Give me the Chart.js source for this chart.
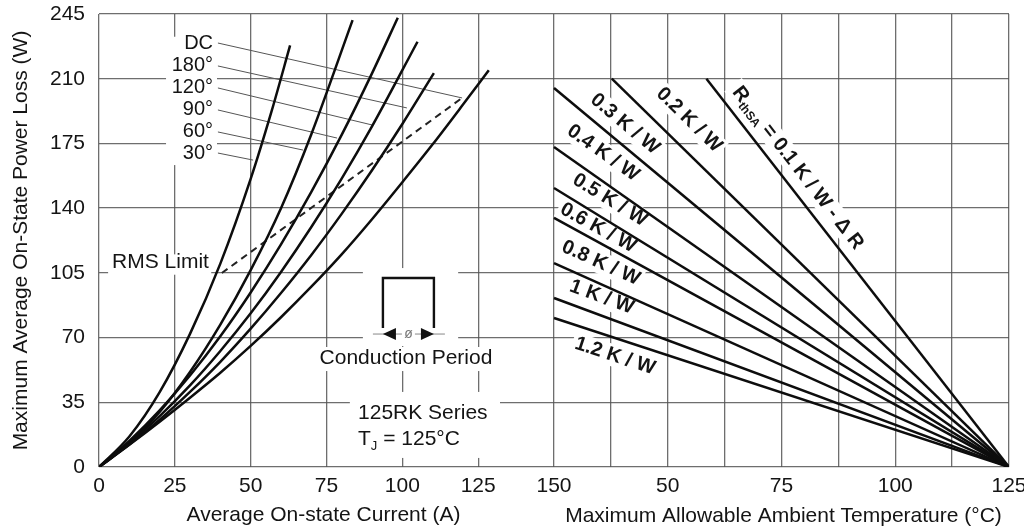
<!DOCTYPE html>
<html><head><meta charset="utf-8">
<script src="https://cdn.jsdelivr.net/npm/chart.js@4.4.0/dist/chart.umd.min.js"></script>
<style>html,body{margin:0;padding:0;background:#fff;overflow:hidden}#wrap{width:1024px;height:532px}</style>
</head><body><div id="wrap"><canvas id="c" width="1024" height="532"></canvas></div>
<script>
// ---------------- DATA ----------------
const yTickValues = [0, 35, 70, 105, 140, 175, 210, 245];
const xTickValues = [0, 25, 50, 75, 100, 125, 150, 168.75, 187.5, 206.25, 225, 243.75, 262.5, 281.25, 300];
const xTickLabels = ['0', '25', '50', '75', '100', '125', '150', '', '50', '', '75', '', '100', '', '125'];

// Left panel: power loss vs average current, per conduction angle
const curveNames = ['DC', '180°', '120°', '90°', '60°', '30°'];
const dcCurrent  = [0, 10, 20, 30, 40, 50, 60, 70, 80, 90, 100, 110, 120, 128.5];
const dcPower    = [0, 12, 24.5, 37.5, 51, 65.5, 81, 97.5, 115, 134, 154, 174.5, 196, 214.6];
const c180Current = [0, 10, 20, 30, 40, 50, 60, 70, 80, 90, 100, 110.4];
const c180Power   = [0, 12.1, 25.6, 40.6, 56.9, 74.8, 94.1, 114.7, 136.9, 160.5, 185.5, 213];
const c120Current = [0, 10, 20, 30, 40, 50, 60, 70, 80, 90, 105];
const c120Power   = [0, 12.8, 27.5, 44.1, 62.7, 83.1, 105.5, 129.8, 156, 184.2, 230];
const c90Current = [0, 10, 20, 30, 40, 50, 60, 70, 80, 90, 98.5];
const c90Power   = [0, 14.1, 30.6, 49.5, 70.7, 94.4, 120.4, 148.8, 179.6, 212.9, 243];
const c60Current = [0, 10, 20, 30, 40, 50, 60, 70, 83.6];
const c60Power   = [0, 12.9, 29.8, 51.4, 77, 106.5, 140, 180, 241.7];
const c30Current = [0, 10, 20, 30, 40, 50, 57, 63];
const c30Power   = [0, 16.5, 40.5, 72, 110, 155.8, 193, 228];

// RMS limit (dashed)
const rmsCurrent = [40.5, 119.7];
const rmsPower   = [104.9, 199.6];

// Leader lines from the curve names to the curves
const leaderStartCurrent = [39.2, 39.2, 39.2, 39.2, 39.2, 39.2];
const leaderStartPower   = [229.3, 216.9, 205, 193.1, 181.2, 169.8];
const leaderEndCurrent   = [119.7, 101.5, 90, 78.5, 67.3, 50.8];
const leaderEndPower     = [199.6, 194.2, 185, 177.9, 171.4, 166];

// Right panel: power loss vs ambient temperature, per heatsink resistance
const rthNames      = ['0.1', '0.2 K / W', '0.3 K / W', '0.4 K / W', '0.5 K / W', '0.6 K / W', '0.8 K / W', '1 K / W', '1.2 K / W'];
const rthStartTemp  = [58.5, 37.7, 25, 25, 25, 25, 25, 25, 25];
const rthStartPower = [210, 210, 205, 173.1, 150.9, 134.7, 110.3, 91.4, 80.6];
const rthEndTemp    = [125, 125, 125, 125, 125, 125, 125, 125, 125];
const rthEndPower   = [0, 0, 0, 0, 0, 0, 0, 0, 0];

// ---------------- HELPERS ----------------
const SPLIT = 150;                           // current axis spans 0..150 units
const tempToX = t => SPLIT + (t - 25) * 1.5; // temperature axis 25..125 mapped onto 150..300
const zip = (xs, ys) => xs.map((x, i) => ({ x: x, y: ys[i] }));

const FONT = "'Liberation Sans', Arial, Helvetica, sans-serif";
const TXT = '#141414';
const GRID = 'rgba(85,85,85,0.85)';

const datasets = [];
const curveCurrents = [dcCurrent, c180Current, c120Current, c90Current, c60Current, c30Current];
const curvePowers   = [dcPower, c180Power, c120Power, c90Power, c60Power, c30Power];
curveNames.forEach((n, i) => datasets.push({
  label: n, data: zip(curveCurrents[i], curvePowers[i]), showLine: true,
  borderColor: '#0d0d0d', borderWidth: 2.5, pointRadius: 0, cubicInterpolationMode: 'monotone'
}));
datasets.push({ label: 'RMS Limit', data: zip(rmsCurrent, rmsPower), showLine: true,
  borderColor: '#222', borderWidth: 2, borderDash: [7, 5], pointRadius: 0 });
leaderStartCurrent.forEach((x, i) => datasets.push({
  label: 'leader' + i, data: [{ x: x, y: leaderStartPower[i] }, { x: leaderEndCurrent[i], y: leaderEndPower[i] }],
  showLine: true, borderColor: '#555', borderWidth: 1, pointRadius: 0 }));
rthNames.forEach((n, i) => datasets.push({
  label: n, data: [{ x: tempToX(rthStartTemp[i]), y: rthStartPower[i] }, { x: tempToX(rthEndTemp[i]), y: rthEndPower[i] }],
  showLine: true, borderColor: '#0d0d0d', borderWidth: 2.5, pointRadius: 0 }));

// ---------------- ANNOTATIONS ----------------
// label anchors in data units (current or temperature, power)
const curveLabelX = 37.6;
const rthLabelTemp  = [78.6, 54.7, 40.6, 35.8, 37.3, 34.7, 35.3, 35.5, 38.4];
const rthLabelPower = [161.7, 187.7, 185.5, 169.8, 144.4, 129.3, 110.3, 91.9, 60];

function P(chart, x, y) { return [chart.scales.x.getPixelForValue(x), chart.scales.y.getPixelForValue(y)]; }
function whiteRect(ctx, x0, y0, x1, y1) { ctx.fillStyle = '#fff'; ctx.fillRect(Math.min(x0, x1), Math.min(y0, y1), Math.abs(x1 - x0), Math.abs(y1 - y0)); }

const annot = {
  id: 'annot',
  beforeDatasetsDraw(chart) {
    const ctx = chart.ctx; ctx.save();
    const boxes = [[22.1, 232.7, 38.9, 163.3], [3, 115, 37, 104], [87, 107.6, 118.4, 65.4], [70.2, 64.9, 132.2, 51.9], [82.7, 40.6, 132.2, 4.9]];
    boxes.forEach(b => { const a = P(chart, b[0], b[1]), c = P(chart, b[2], b[3]); whiteRect(ctx, a[0], a[1], c[0], c[1]); });
    // white boxes behind rotated right-panel labels
    rthNames.forEach((n, i) => {
      const s = P(chart, tempToX(rthStartTemp[i]), rthStartPower[i]), e = P(chart, tempToX(rthEndTemp[i]), rthEndPower[i]);
      const ang = Math.atan2(e[1] - s[1], e[0] - s[0]);
      const c = P(chart, tempToX(rthLabelTemp[i]), rthLabelPower[i]);
      ctx.font = 'bold 20px ' + FONT;
      const w = (i === 0 ? 205 : ctx.measureText(n).width) + 6;
      ctx.save(); ctx.translate(c[0], c[1]); ctx.rotate(ang);
      ctx.fillStyle = '#fff'; ctx.fillRect(-w / 2, -11, w, 22); ctx.restore();
    });
    ctx.restore();
  },
  afterDatasetsDraw(chart) {
    const ctx = chart.ctx; ctx.save();
    ctx.fillStyle = TXT; ctx.textBaseline = 'middle';
    // curve names
    ctx.font = '20px ' + FONT; ctx.textAlign = 'right';
    curveNames.forEach((n, i) => { const p = P(chart, curveLabelX, leaderStartPower[i]); ctx.fillText(n, p[0], p[1]); });
    // RMS Limit
    ctx.textAlign = 'left'; ctx.font = '21px ' + FONT;
    let p = P(chart, 4.3, 111); ctx.fillText('RMS Limit', p[0], p[1]);
    // Conduction Period
    ctx.textAlign = 'center';
    p = P(chart, 101.2, 59); ctx.fillText('Conduction Period', p[0], p[1]);
    // 125RK Series / TJ
    ctx.textAlign = 'left';
    p = P(chart, 85.4, 29.2); ctx.fillText('125RK Series', p[0], p[1]);
    p = P(chart, 85.4, 15.1);
    ctx.fillText('T', p[0], p[1]);
    let wT = ctx.measureText('T').width;
    ctx.font = '13px ' + FONT; ctx.fillText('J', p[0] + wT, p[1] + 7);
    let wJ = ctx.measureText('J').width;
    ctx.font = '21px ' + FONT; ctx.fillText(' = 125°C', p[0] + wT + wJ, p[1]);
    // conduction icon
    const ic = P(chart, 93.6, 102.2); const ix = ic[0], iy = ic[1];
    ctx.strokeStyle = '#111'; ctx.lineWidth = 2.4;
    ctx.beginPath(); ctx.moveTo(ix, iy + 50); ctx.lineTo(ix, iy); ctx.lineTo(ix + 51, iy); ctx.lineTo(ix + 51, iy + 50); ctx.stroke();
    const ay = iy + 56;
    ctx.strokeStyle = '#888'; ctx.lineWidth = 1;
    ctx.beginPath(); ctx.moveTo(ix - 10, ay); ctx.lineTo(ix + 62, ay); ctx.stroke();
    ctx.fillStyle = '#111';
    ctx.beginPath(); ctx.moveTo(ix, ay); ctx.lineTo(ix + 13, ay - 6); ctx.lineTo(ix + 13, ay + 6); ctx.closePath(); ctx.fill();
    ctx.beginPath(); ctx.moveTo(ix + 51, ay); ctx.lineTo(ix + 38, ay - 6); ctx.lineTo(ix + 38, ay + 6); ctx.closePath(); ctx.fill();
    ctx.fillStyle = '#fff'; ctx.fillRect(ix + 19, ay - 7, 13, 14);
    ctx.fillStyle = '#777'; ctx.font = '14px ' + FONT; ctx.textAlign = 'center'; ctx.fillText('ø', ix + 25.5, ay);
    // right-panel rotated labels
    ctx.fillStyle = TXT;
    rthNames.forEach((n, i) => {
      const s = P(chart, tempToX(rthStartTemp[i]), rthStartPower[i]), e = P(chart, tempToX(rthEndTemp[i]), rthEndPower[i]);
      const ang = Math.atan2(e[1] - s[1], e[0] - s[0]);
      const c = P(chart, tempToX(rthLabelTemp[i]), rthLabelPower[i]);
      ctx.save(); ctx.translate(c[0], c[1]); ctx.rotate(ang);
      if (i === 0) {
        const big = 'bold 20px ' + FONT, small = 'bold 12px ' + FONT;
        const rest = ' = 0.1 K / W - \u0394 R';
        ctx.font = big; const wR = ctx.measureText('R').width, wRest = ctx.measureText(rest).width;
        ctx.font = small; const wS = ctx.measureText('thSA').width;
        let x0 = -(wR + wS + wRest) / 2;
        ctx.textAlign = 'left';
        ctx.font = big; ctx.fillText('R', x0, 0);
        ctx.font = small; ctx.fillText('thSA', x0 + wR, 6);
        ctx.font = big; ctx.fillText(rest, x0 + wR + wS, 0);
      } else {
        ctx.font = 'bold 20px ' + FONT; ctx.textAlign = 'center'; ctx.fillText(n, 0, 0);
      }
      ctx.restore();
    });
    // x-axis titles (two panels)
    ctx.font = '21px ' + FONT; ctx.textAlign = 'center'; ctx.fillStyle = TXT;
    const xs = chart.scales.x;
    ctx.fillText('Average On-state Current (A)', xs.getPixelForValue(75) - 3, 515);
    ctx.fillText('Maximum Allowable Ambient Temperature (°C)', xs.getPixelForValue(225) + 2, 516);
    ctx.restore();
  }
};

new Chart(document.getElementById('c').getContext('2d'), {
  type: 'scatter',
  data: { datasets: datasets },
  options: {
    responsive: false, animation: false, events: [],
    layout: { padding: { top: 14, right: 15, left: 0, bottom: 0 } },
    plugins: { legend: { display: false }, tooltip: { enabled: false } },
    scales: {
      x: {
        type: 'linear', min: 0, max: 300,
        afterBuildTicks: s => { s.ticks = xTickValues.map(v => ({ value: v })); },
        afterFit: s => { s.height = 65; s.paddingLeft = 0; s.paddingRight = 0; },
        grid: { color: GRID, lineWidth: 1.3, drawTicks: false },
        border: { display: false },
        ticks: { autoSkip: false, maxRotation: 0, padding: 7, color: TXT,
          font: { family: FONT, size: 21 }, callback: (v, i) => xTickLabels[i] }
      },
      y: {
        type: 'linear', min: 0, max: 245,
        afterBuildTicks: s => { s.ticks = yTickValues.map(v => ({ value: v })); },
        afterFit: s => { s.width = 99; s.paddingTop = 0; s.paddingBottom = 0; },
        grid: { color: GRID, lineWidth: 1.3, drawTicks: false },
        border: { display: false },
        ticks: { padding: 14, color: TXT, font: { family: FONT, size: 21 } },
        title: { display: true, text: 'Maximum Average On-State Power Loss (W)', color: TXT,
          font: { family: FONT, size: 21 }, padding: { top: 9, bottom: 0 } }
      }
    }
  },
  plugins: [annot]
});
</script></body></html>
